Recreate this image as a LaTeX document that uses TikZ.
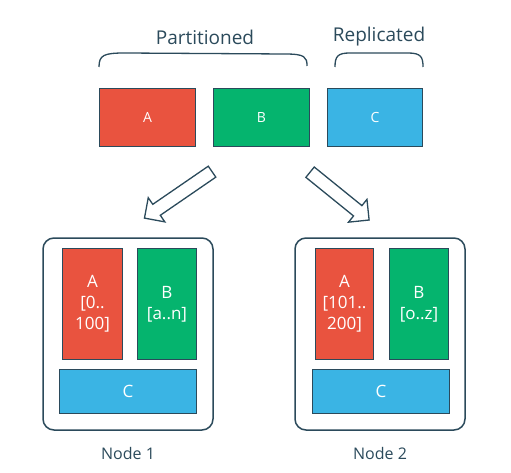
\documentclass[tikz,border=0pt]{standalone}
\usepackage{fontspec}
\setmainfont{Open Sans}
\usetikzlibrary{shapes.arrows}
\definecolor{inkline}{HTML}{2B4A5B}
\definecolor{partred}{HTML}{E9533F}
\definecolor{partgreen}{HTML}{05B46E}
\definecolor{repblue}{HTML}{3AB4E4}
\begin{document}
\begin{tikzpicture}[x=1pt,y=-1pt,
    line width=1.3pt, draw=inkline,
    block/.style={draw=inkline, line width=1.3pt, text=white, font=\fontsize{14}{16}\selectfont},
    shard/.style={block, align=center, font=\fontsize{17}{21}\selectfont},
    machine/.style={draw=inkline, line width=1.5pt, rounded corners=11pt, minimum width=170pt, minimum height=192pt},
    caption/.style={text=inkline, font=\fontsize{19}{22}\selectfont},
    flow/.style={draw=inkline, line width=1.3pt, fill=white, single arrow, inner sep=6pt,
        single arrow head extend=8pt}]
        \useasboundingbox (0,0) rectangle (511,473);

        %Headings
        \node [caption] (hpart)at(205,37){Partitioned};
        \node [caption] (hrep)at(379,37){Replicated};
        %Braces
        \draw [inkline](99,67) .. controls (99,55) and (104,53) .. (125,53) -- (285,54) .. controls (305,54) and (307,57) .. (307,66);
        \draw [inkline](335,67) .. controls (335,56) and (338,53) .. (350,53) -- (408,53) .. controls (421,53) and (423,57) .. (423,67);

        %Data
        \node [block, fill = partred, minimum width = 96pt, minimum height = 58pt]
        (dA)at(147.5,117.5){A};
        \node [block, fill = partgreen, minimum width = 96pt, minimum height = 58pt]
        (dB)at(261.5,117.5){B};
        \node [block, fill = repblue, minimum width = 95pt, minimum height = 58pt]
        (dC)at(375,117.5){C};

        %Arrows
        \node [flow, minimum height = 82pt, rotate = 214.5] (go1)at(181,193){};
        \node [flow, minimum height = 76pt, rotate = -39] (go2)at(337,194){};

        %Node 1
        \node [machine] (n1)at(128,334){};
        \node [shard, fill = partred, minimum width = 60pt, minimum height = 111pt]
        (n1A)at(92.5,304){A\\{[}0..\\100{]}};
        \node [shard, fill = partgreen, minimum width = 59pt, minimum height = 111pt]
        (n1B)at(167,304){B\\{[}a..n{]}};
        \node [block, fill = repblue, minimum width = 137pt, minimum height = 44pt, font=\fontsize{17}{20}\selectfont]
        (n1C)at(128,391.5){C};
        \node [caption, font=\fontsize{16}{19}\selectfont] (l1)at(128,453){Node 1};

        %Node 2
        \node [machine] (n2)at(380,334){};
        \node [shard, fill = partred, minimum width = 58pt, minimum height = 111pt]
        (n2A)at(344.5,304){A\\{[}101..\\200{]}};
        \node [shard, fill = partgreen, minimum width = 59pt, minimum height = 111pt]
        (n2B)at(419,304){B\\{[}o..z{]}};
        \node [block, fill = repblue, minimum width = 137pt, minimum height = 44pt, font=\fontsize{17}{20}\selectfont]
        (n2C)at(381,391.5){C};
        \node [caption, font=\fontsize{16}{19}\selectfont] (l2)at(380,453){Node 2};

    \end{tikzpicture}
\end{document}
